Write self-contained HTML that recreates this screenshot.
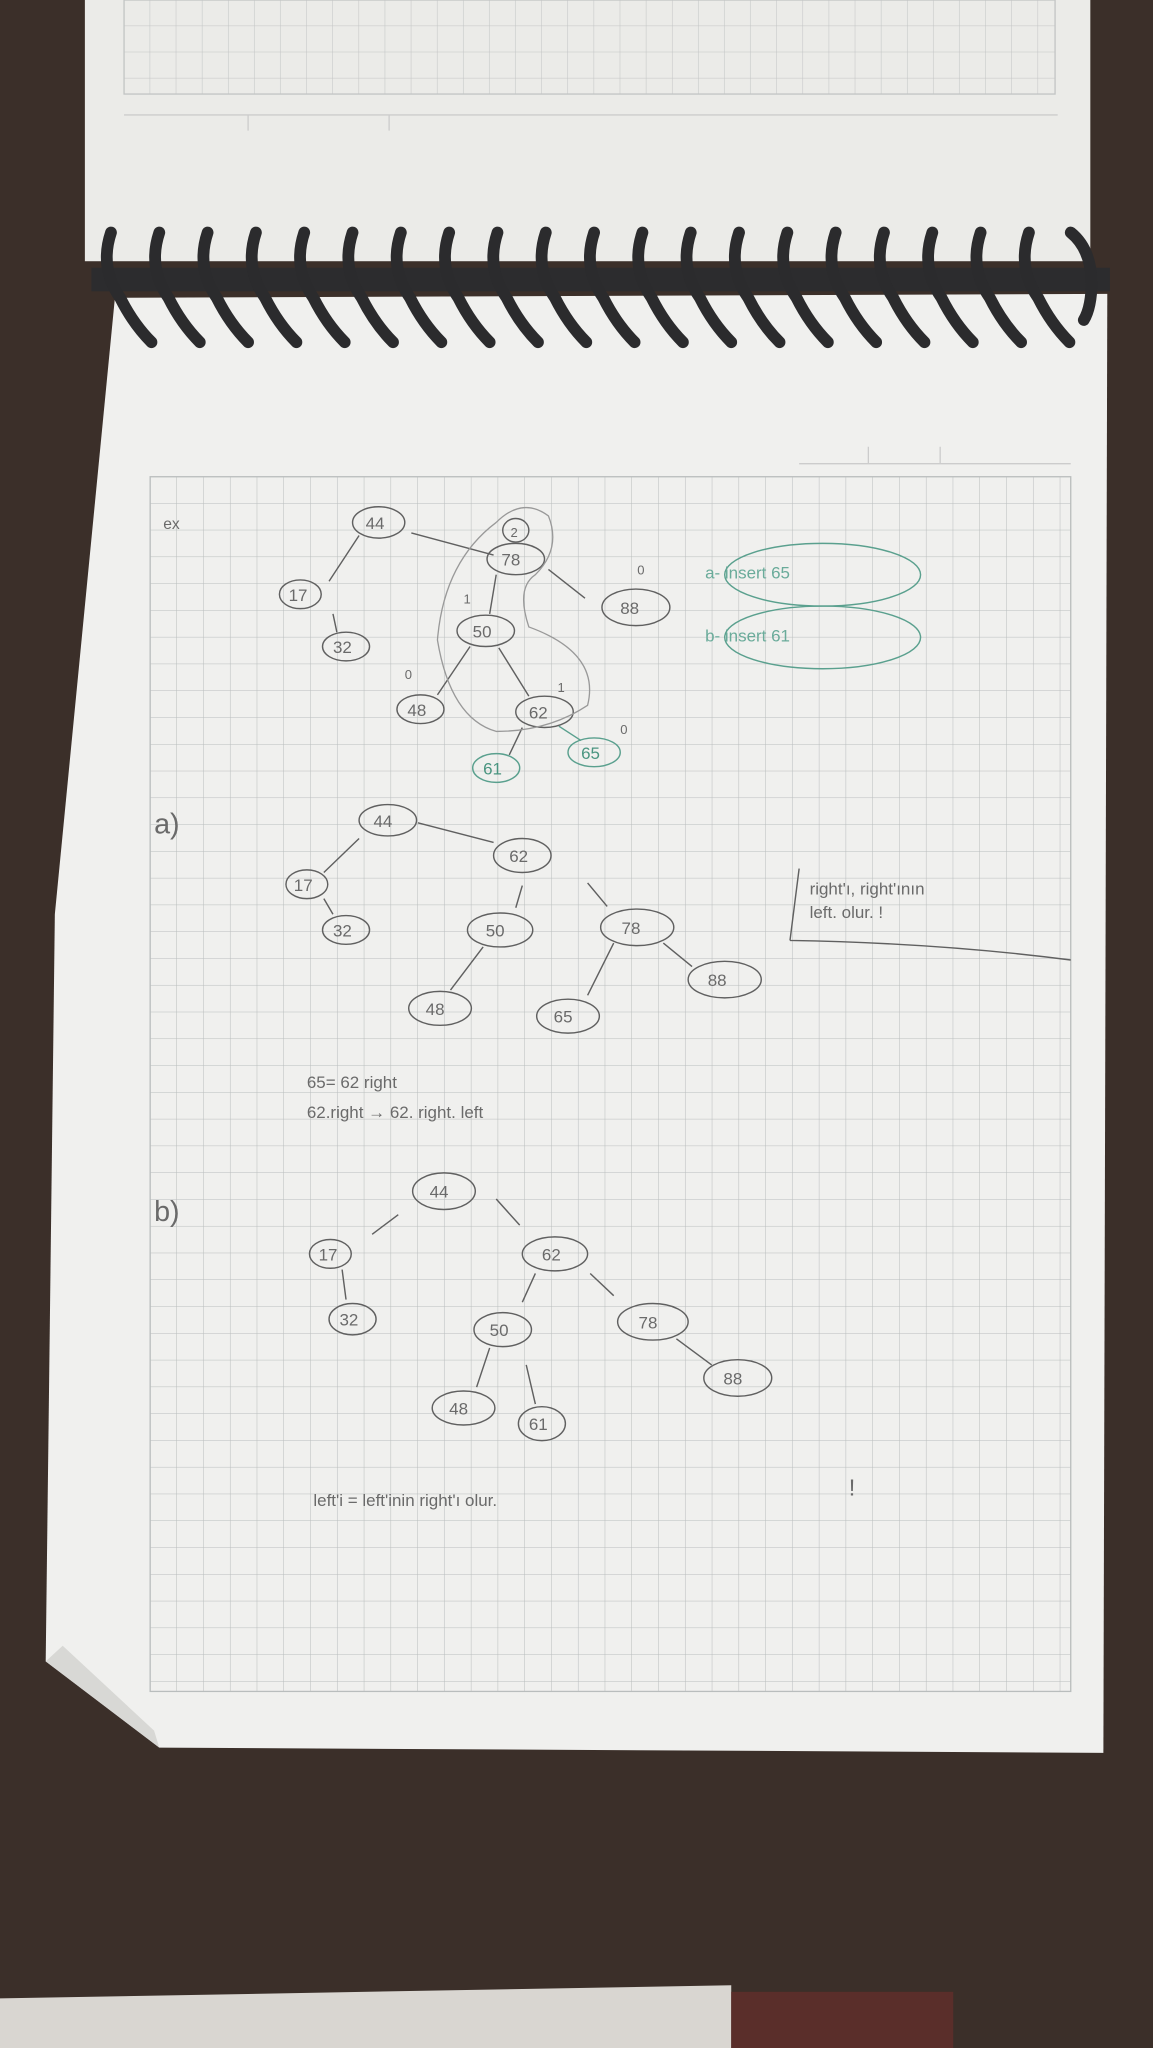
<!DOCTYPE html>
<html><head><meta charset="utf-8"><style>
html,body{margin:0;padding:0;background:#3b2f29;}
svg{display:block}
text{font-family:"Liberation Sans",sans-serif;fill:#6a6a6a;}
</style></head><body>
<svg width="1153" height="2048" viewBox="0 0 883 1568" preserveAspectRatio="none" xmlns="http://www.w3.org/2000/svg">
<defs>
<pattern id="g" width="20.5" height="20.5" patternUnits="userSpaceOnUse" x="115" y="365">
<path d="M20.5 0V20.5H0" fill="none" stroke="#b9bdbd" stroke-width="0.8"/>
</pattern>
<pattern id="g2" width="20" height="20" patternUnits="userSpaceOnUse" x="95" y="0">
<path d="M20 0V20H0" fill="none" stroke="#c2c4c4" stroke-width="0.8"/>
</pattern>
</defs>
<rect width="883" height="1568" fill="#3b2f29"/>
<polygon points="0,1530 560,1520 560,1568 0,1568" fill="#d9d6d1"/>
<rect x="560" y="1525" width="170" height="43" fill="#5a2e2a"/>
<rect x="65" y="0" width="770" height="200" fill="#ebebe8"/>
<rect x="95" y="0" width="713" height="72" fill="url(#g2)" stroke="#c2c4c4"/>
<path d="M95 88H810 M190 88V100 M298 88V100" stroke="#ccc" fill="none"/>
<polygon points="88,228 848,225 845,1342 122,1338 35,1272 42,700" fill="#f0f0ee"/>
<polygon points="35,1272 122,1338 118,1325 48,1260" fill="#d8d8d5"/>
<rect x="115" y="365" width="705" height="930" fill="url(#g)" stroke="#b9bdbd"/>
<path d="M612 355H820 M665 342V355 M720 342V355" stroke="#ccc" fill="none"/>
<rect x="70" y="205" width="780" height="18" fill="#2c2c2e"/>
<g fill="none" stroke="#2b2b2d" stroke-width="9" stroke-linecap="round">
<path d="M85 178 Q76 205 92 228 Q102 248 116 262"/>
<path d="M122 178 Q113 205 129 228 Q139 248 153 262"/>
<path d="M159 178 Q150 205 166 228 Q176 248 190 262"/>
<path d="M196 178 Q187 205 203 228 Q213 248 227 262"/>
<path d="M233 178 Q224 205 240 228 Q250 248 264 262"/>
<path d="M270 178 Q261 205 277 228 Q287 248 301 262"/>
<path d="M307 178 Q298 205 314 228 Q324 248 338 262"/>
<path d="M344 178 Q335 205 351 228 Q361 248 375 262"/>
<path d="M381 178 Q372 205 388 228 Q398 248 412 262"/>
<path d="M418 178 Q409 205 425 228 Q435 248 449 262"/>
<path d="M455 178 Q446 205 462 228 Q472 248 486 262"/>
<path d="M492 178 Q483 205 499 228 Q509 248 523 262"/>
<path d="M529 178 Q520 205 536 228 Q546 248 560 262"/>
<path d="M566 178 Q557 205 573 228 Q583 248 597 262"/>
<path d="M603 178 Q594 205 610 228 Q620 248 634 262"/>
<path d="M640 178 Q631 205 647 228 Q657 248 671 262"/>
<path d="M677 178 Q668 205 684 228 Q694 248 708 262"/>
<path d="M714 178 Q705 205 721 228 Q731 248 745 262"/>
<path d="M751 178 Q742 205 758 228 Q768 248 782 262"/>
<path d="M788 178 Q779 205 795 228 Q805 248 819 262"/>
<path d="M820 178 Q835 190 836 215 Q836 235 830 245"/>
</g>
<g fill="none" stroke="#606060" stroke-width="1.1">
<ellipse cx="290" cy="400" rx="20" ry="12"/><ellipse cx="395" cy="406" rx="10" ry="9"/>
<ellipse cx="395" cy="428" rx="22" ry="12"/><ellipse cx="230" cy="455" rx="16" ry="11"/>
<ellipse cx="265" cy="495" rx="18" ry="11"/><ellipse cx="372" cy="483" rx="22" ry="12"/>
<ellipse cx="487" cy="465" rx="26" ry="14"/><ellipse cx="322" cy="543" rx="18" ry="11"/>
<ellipse cx="417" cy="545" rx="22" ry="12"/>
<path d="M252 445L275 410 M255 470L258 484 M315 408L378 425 M380 440L375 470 M420 436L448 458 M360 495L335 532 M382 496L405 533 M400 557L390 578"/>
<path d="M380 400 Q340 430 335 490 Q345 550 380 560 Q420 560 450 540 Q460 500 405 480 Q395 450 410 440 Q430 420 420 395 Q400 380 380 400" stroke="#999" stroke-width="1"/>
<g stroke="#5aa08e"><ellipse cx="380" cy="588" rx="18" ry="11"/><ellipse cx="455" cy="576" rx="20" ry="11"/>
<path d="M428 556L445 567"/>
<ellipse cx="630" cy="440" rx="75" ry="24"/><ellipse cx="630" cy="488" rx="75" ry="24"/></g>
<ellipse cx="297" cy="628" rx="22" ry="12"/><ellipse cx="235" cy="677" rx="16" ry="11"/>
<ellipse cx="265" cy="712" rx="18" ry="11"/><ellipse cx="400" cy="655" rx="22" ry="13"/>
<ellipse cx="383" cy="712" rx="25" ry="13"/><ellipse cx="488" cy="710" rx="28" ry="14"/>
<ellipse cx="337" cy="772" rx="24" ry="13"/><ellipse cx="435" cy="778" rx="24" ry="13"/>
<ellipse cx="555" cy="750" rx="28" ry="14"/>
<path d="M248 668L275 642 M248 688L255 700 M320 630L378 645 M400 678L395 695 M450 676L465 694 M370 725L345 758 M470 722L450 762 M508 722L530 740"/>
<path d="M612 665L605 720 M605 720Q720 722 820 735"/>
<ellipse cx="340" cy="912" rx="24" ry="14"/><ellipse cx="253" cy="960" rx="16" ry="11"/>
<ellipse cx="270" cy="1010" rx="18" ry="12"/><ellipse cx="425" cy="960" rx="25" ry="13"/>
<ellipse cx="385" cy="1018" rx="22" ry="13"/><ellipse cx="500" cy="1012" rx="27" ry="14"/>
<ellipse cx="355" cy="1078" rx="24" ry="13"/><ellipse cx="415" cy="1090" rx="18" ry="13"/>
<ellipse cx="565" cy="1055" rx="26" ry="14"/>
<path d="M285 945L305 930 M262 972L265 995 M380 918L398 938 M410 975L400 997 M452 975L470 992 M375 1032L365 1062 M403 1045L410 1075 M518 1025L545 1045"/>
</g>
<g font-size="13">
<text x="280" y="405">44</text><text x="391" y="411" font-size="10">2</text><text x="384" y="433">78</text>
<text x="221" y="460">17</text><text x="255" y="500">32</text><text x="362" y="488">50</text>
<text x="475" y="470">88</text><text x="312" y="548">48</text><text x="405" y="550">62</text>
<text x="370" y="593" style="fill:#4a9580">61</text><text x="445" y="581" style="fill:#4a9580">65</text>
<text x="540" y="443" style="fill:#6aab9a">a- insert 65</text><text x="540" y="491" style="fill:#6aab9a">b- insert 61</text>
<text x="125" y="405" font-size="12">ex</text><text x="310" y="520" font-size="10">0</text><text x="355" y="462" font-size="10">1</text><text x="427" y="530" font-size="10">1</text><text x="475" y="562" font-size="10">0</text><text x="488" y="440" font-size="10">0</text>
<text x="118" y="638" font-size="22">a)</text>
<text x="286" y="633">44</text><text x="225" y="682">17</text><text x="255" y="717">32</text>
<text x="390" y="660">62</text><text x="372" y="717">50</text><text x="476" y="715">78</text>
<text x="326" y="777">48</text><text x="424" y="783">65</text><text x="542" y="755">88</text>
<text x="620" y="685">right'ı, right'ının</text><text x="620" y="703">left. olur. !</text>
<text x="235" y="833">65= 62 right</text><text x="235" y="856">62.right → 62. right. left</text>
<text x="118" y="935" font-size="22">b)</text>
<text x="329" y="917">44</text><text x="244" y="965">17</text><text x="260" y="1015">32</text>
<text x="415" y="965">62</text><text x="375" y="1023">50</text><text x="489" y="1017">78</text>
<text x="344" y="1083">48</text><text x="405" y="1095">61</text><text x="554" y="1060">88</text>
<text x="240" y="1153">left'i  =  left'inin  right'ı  olur.</text><text x="650" y="1145" font-size="18">!</text>
</g>
</svg>
</body></html>
